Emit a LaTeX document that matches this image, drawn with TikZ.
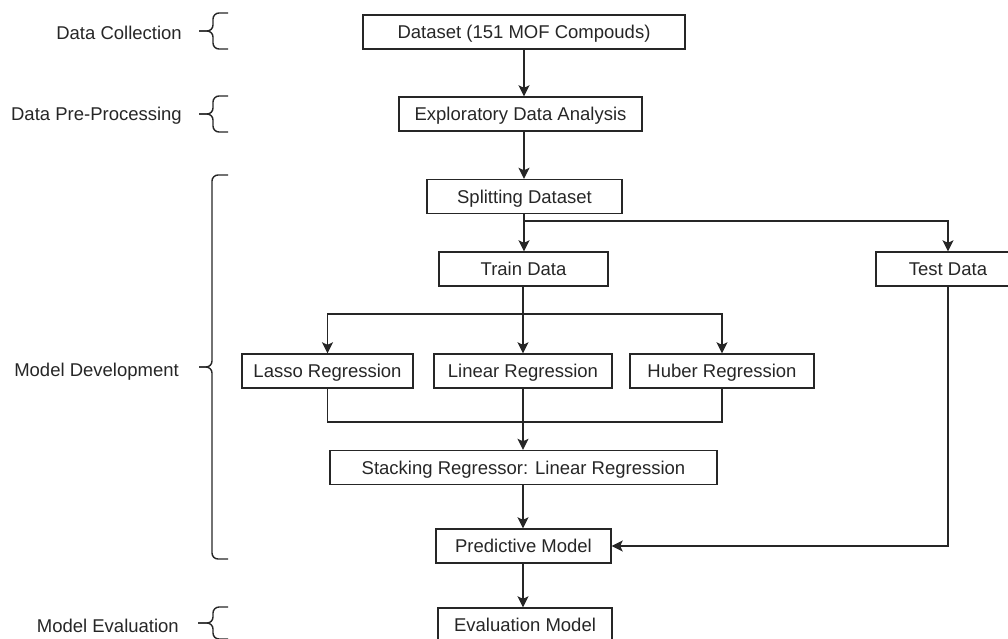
\documentclass[tikz,border=0pt]{standalone}
\usepackage{fontspec}
\setmainfont{Liberation Sans}
\usetikzlibrary{arrows.meta}
\begin{document}
\begin{tikzpicture}[x=1pt,y=-1pt,
  box/.style={draw=black!85,line width=1.4pt,minimum height=34pt,inner sep=0pt,
    text height=13.3pt,text depth=0pt,
    font=\fontsize{18.5}{22}\selectfont,text=black!85},
  lbl/.style={anchor=east,inner sep=0pt,text height=13.3pt,text depth=0pt,
    font=\fontsize{18.5}{22}\selectfont,text=black!85},
  conn/.style={draw=black!85,line width=1.4pt},
  arr/.style={conn,-{Stealth[length=11pt,width=11pt,inset=2.5pt]}},
  brace/.style={draw=black!85,line width=1.4pt,rounded corners=6pt}]
\useasboundingbox (0,0) rectangle (1008,638);
% boxes
\node[box,minimum width=322pt] (ds) at (524,32) {Dataset (151 MOF Compouds)};
\node[box,minimum width=243pt] (eda) at (520.5,114) {Exploratory Data Analysis};
\node[box,minimum width=195pt] (split) at (524.5,196.5) {Splitting Dataset};
\node[box,minimum width=169pt] (train) at (523.5,269) {Train Data};
\node[box,minimum width=144pt] (test) at (948,269) {Test Data};
\node[box,minimum width=171pt] (lasso) at (327.5,371) {Lasso Regression};
\node[box,minimum width=178pt] (lin) at (523,371) {Linear Regression};
\node[box,minimum width=184pt] (huber) at (722,371) {Huber Regression};
\node[box,minimum width=387pt] (stack) at (523.5,467.5) {Stacking Regressor: Linear Regression};
\node[box,minimum width=175pt] (pred) at (523.5,546) {Predictive Model};
\node[box,minimum width=174pt] (evalm) at (525,625) {Evaluation Model};
% coordinates
\coordinate (sx) at (524,0);
\coordinate (j1) at (524,221);
\coordinate (j2) at (523,314);
\coordinate (j3) at (523,422);
% connectors
\draw[arr] (sx |- ds.south) -- (sx |- eda.north);
\draw[arr] (sx |- eda.south) -- (sx |- split.north);
\draw[conn] (j1 |- split.south) -- (j1);
\draw[arr] (j1) -- (j1 |- train.north);
\draw[arr] (j1) -| (test.north);
\draw[conn] (j2 |- train.south) -- (j2);
\draw[arr] (j2) -| (lasso.north);
\draw[arr] (j2) -| (huber.north);
\draw[arr] (j2) -- (j2 |- lin.north);
\draw[conn] (lasso.south) |- (j3);
\draw[conn] (huber.south) |- (j3);
\draw[arr] (j3 |- lin.south) -- (j3 |- stack.north);
\draw[arr] (j3 |- stack.south) -- (j3 |- pred.north);
\draw[arr] (test.south) |- (pred.east);
\draw[arr] (j3 |- pred.south) -- (j3 |- evalm.north);
% stage labels
\node[lbl] (l1) at (182,33) {Data Collection};
\node[lbl] (l2) at (182,114) {Data Pre-Processing};
\node[lbl] (l3) at (179,370) {Model Development};
\node[lbl] (l4) at (179,626) {Model Evaluation};
% braces
\draw[brace] (228,13) -- (213,13) -- (213,31) -- (199,31);
\draw[brace] (199,31) -- (213,31) -- (213,49) -- (228,49);
\draw[brace] (228,96) -- (213,96) -- (213,114) -- (199,114);
\draw[brace] (199,114) -- (213,114) -- (213,132) -- (228,132);
\draw[brace] (228,175) -- (212,175) -- (212,367) -- (199,367);
\draw[brace] (199,367) -- (212,367) -- (212,559) -- (228,559);
\draw[brace] (228,607) -- (213,607) -- (213,623) -- (198,623);
\draw[brace] (198,623) -- (213,623) -- (213,639) -- (228,639);
\end{tikzpicture}
\end{document}
